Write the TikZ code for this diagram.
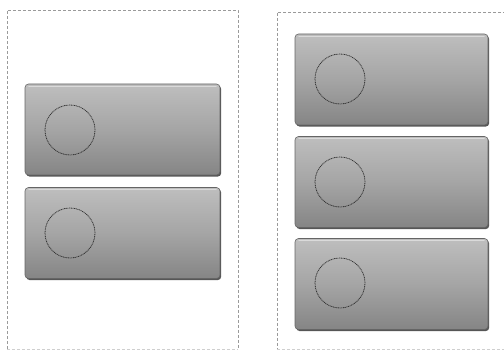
\documentclass[tikz,border=0pt]{standalone}
\usetikzlibrary{shadows}
\definecolor{btntop}{HTML}{BEBEBE}
\definecolor{btnmid}{HTML}{A5A5A5}
\definecolor{btnbot}{HTML}{858585}
\definecolor{btnedge}{HTML}{656565}
\definecolor{btnshadow}{HTML}{444444}
\definecolor{panelline}{HTML}{9A9A9A}
\definecolor{panelfaint}{HTML}{CFCFCF}
\definecolor{ringcol}{HTML}{353535}
\tikzset{
  x=1pt, y=-1pt,
  panel/.style={draw=panelline, dash pattern=on 3pt off 2pt, line width=0.7pt},
  btn/.style={rectangle, rounded corners=3.5pt, minimum width=195pt, minimum height=91pt,
    inner sep=0pt, top color=btntop, bottom color=btnbot, middle color=btnmid,
    draw=btnedge, line width=0.6pt,
    drop shadow={shadow xshift=1.2pt, shadow yshift=-1.6pt, fill=btnshadow, opacity=0.9}},
  ring/.style={circle, draw=ringcol, dash pattern=on 1pt off 0.7pt, line width=0.8pt, minimum size=50pt, inner sep=0pt},
  hilite/.style={draw=white, line width=0.8pt, opacity=0.45, line cap=round}
}
\begin{document}
\begin{tikzpicture}
\useasboundingbox (0,0) rectangle (504,350);
% left panel
\coordinate (la) at (7,10);
\coordinate (lb) at (7,349);
\coordinate (lc) at (238,10);
\coordinate (ld) at (238,349);
\draw[panel] (lb) -- (la) -- (lc) -- (ld);
\draw[panel, draw=panelfaint] (lb) -- (ld);
% right panel (right side cut off)
\coordinate (ra) at (277,12);
\coordinate (rb) at (277,349);
\coordinate (rc) at (506,12);
\coordinate (rd) at (506,349);
\draw[panel] (rc) -- (ra) -- (rb);
\draw[panel, draw=panelfaint] (rb) -- (rd);
% left buttons
\node[btn] (L1) at (122.5,129.5) {};
\node[btn] (L2) at (122.5,233) {};
% right buttons
\node[btn, minimum width=193pt] (R1) at (391.5,79.5) {};
\node[btn, minimum width=193pt] (R2) at (391.5,182) {};
\node[btn, minimum width=193pt] (R3) at (391.5,284) {};
% highlights
\foreach \b in {L1,L2,R1,R2,R3}{
  \draw[hilite] ([xshift=4pt,yshift=-2.5pt]\b.north west) -- ([xshift=-4pt,yshift=-2.5pt]\b.north east);
}
% rings
\node[ring] (cL1) at (70,130) {};
\node[ring] (cL2) at (70,233) {};
\node[ring] (cR1) at (340,79) {};
\node[ring] (cR2) at (340,182) {};
\node[ring] (cR3) at (340,283) {};
\end{tikzpicture}
\end{document}
